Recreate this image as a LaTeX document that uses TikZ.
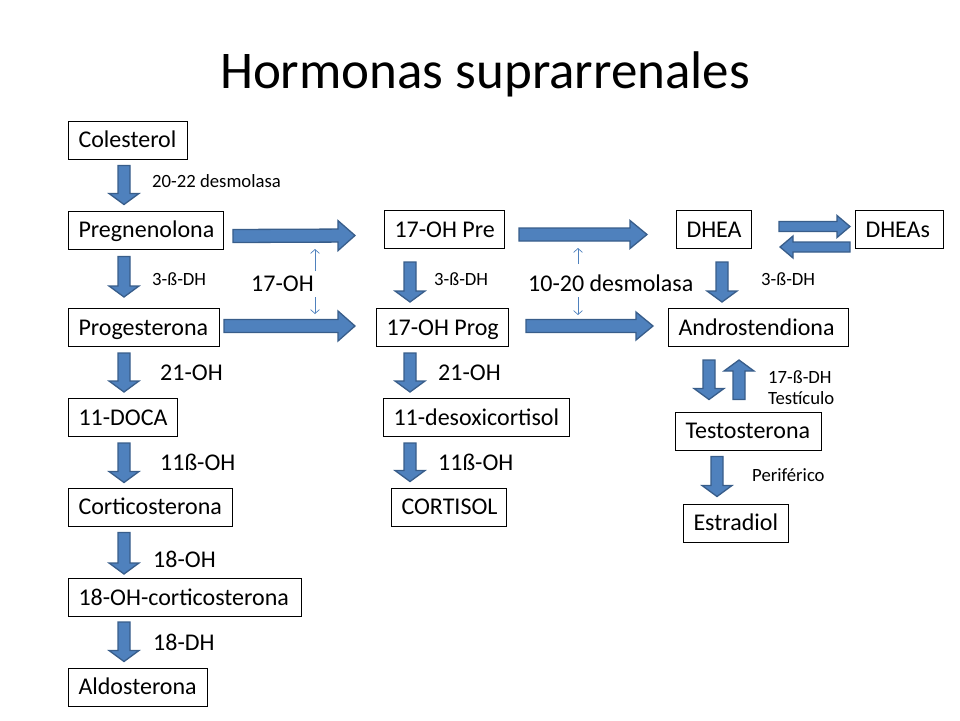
\documentclass[tikz,border=0pt]{standalone}
\usepackage{fontspec}
\setmainfont{Carlito}
\usetikzlibrary{calc,arrows.meta}
\definecolor{afill}{HTML}{4F81BD}
\definecolor{aline}{HTML}{385D8A}
\newcommand\barrow[5]{%
  \coordinate (ba) at #1; \coordinate (bb) at #2;
  \coordinate (bh) at ($(bb)!#5pt!(ba)$);
  \filldraw[blk] ($(ba)!#3pt!90:(bb)$) -- ($(bh)!#3pt!90:(bb)$) -- ($(bh)!#4pt!90:(bb)$) -- (bb)
    -- ($(bh)!#4pt!-90:(bb)$) -- ($(bh)!#3pt!-90:(bb)$) -- ($(ba)!#3pt!-90:(bb)$) -- cycle;}
\newcommand\bx[2]{\makebox[#1pt][l]{#2}}
\tikzset{
  box/.style={draw=black, line width=1pt, anchor=west, minimum height=38pt, inner xsep=10pt, inner ysep=0pt,
    text height=15.5pt, text depth=0pt, font=\fontsize{24}{28}\selectfont},
  blk/.style={fill=afill, draw=aline, line width=1.3pt, line join=miter},
  small/.style={anchor=base west, inner sep=0pt, font=\fontsize{18.7}{22}\selectfont},
  big/.style={anchor=base west, inner sep=0pt, font=\fontsize{24}{28}\selectfont},
  thinarr/.style={draw=afill, line width=0.7pt, -{Straight Barb[length=4pt,width=9pt]}}
}
\begin{document}
\begin{tikzpicture}[x=1pt,y=-1pt]
\useasboundingbox (0,0) rectangle (960,720);
\node[anchor=base, inner sep=0pt, font=\fontsize{53}{60}\selectfont] (title) at (485,88) {Hormonas suprarrenales};
% column 1
\node[box] (cole) at (68,140) {\bx{99}{Colesterol}};
\node[box] (preg) at (68,230) {\bx{135}{Pregnenolona}};
\node[box] (prog) at (68,327.5) {\bx{131}{Progesterona}};
\node[box] (doca) at (68,417.5) {\bx{89}{11-DOCA}};
\node[box] (cortico) at (68,507) {\bx{144}{Corticosterona}};
\node[box] (ohcort) at (68,597.5) {\bx{213}{18-OH-corticosterona}};
\node[box] (aldo) at (68,687) {\bx{119}{Aldosterona}};
% column 2
\node[box] (ohpre) at (384,229.5) {\bx{100}{17-OH Pre}};
\node[box] (ohprog) at (376,327.5) {\bx{112}{17-OH Prog}};
\node[box] (desoxi) at (383,417.5) {\bx{166}{11-desoxicortisol}};
\node[box] (cortisol) at (391,507) {\bx{95}{CORTISOL}};
% column 3
\node[box] (dhea) at (676,229.5) {\bx{55}{DHEA}};
\node[box] (dheas) at (855,229.5) {\bx{68}{DHEAs}};
\node[box] (andro) at (668,327.5) {\bx{160}{Androstendiona}};
\node[box] (testo) at (675,431) {\bx{126}{Testosterona}};
\node[box] (estra) at (683,523) {\bx{85}{Estradiol}};
% vertical block arrows column 1
\barrow{($(124,0 |- cole.south)+(0,6)$)}{($(124,0 |- preg.north)+(0,-6)$)}{6}{15}{11}
\barrow{($(124,0 |- preg.south)+(0,7)$)}{($(124,0 |- prog.north)+(0,-11)$)}{6}{15}{11}
\barrow{($(124,0 |- prog.south)+(0,6)$)}{($(124,0 |- doca.north)+(0,-6)$)}{6}{15}{11}
\barrow{($(124,0 |- doca.south)+(0,6)$)}{($(124,0 |- cortico.north)+(0,-5)$)}{6}{15}{11}
\barrow{($(124,0 |- cortico.south)+(0,6)$)}{($(124,0 |- ohcort.north)+(0,-4)$)}{6}{15}{11}
\barrow{($(124,0 |- ohcort.south)+(0,5)$)}{($(124,0 |- aldo.north)+(0,-6)$)}{6}{15}{11}
% vertical block arrows column 2
\barrow{($(410,0 |- ohpre.south)+(0,13)$)}{($(410,0 |- ohprog.north)+(0,-6)$)}{6}{15}{11}
\barrow{($(410,0 |- ohprog.south)+(0,6)$)}{($(410,0 |- desoxi.north)+(0,-6)$)}{6}{15}{11}
\barrow{($(410,0 |- desoxi.south)+(0,6)$)}{($(410,0 |- cortisol.north)+(0,-6)$)}{6}{15}{11}
% column 3
\barrow{($(722,0 |- dhea.south)+(0,13)$)}{($(722,0 |- andro.north)+(0,-6)$)}{6}{15}{11}
\barrow{($(709,0 |- andro.south)+(0,13)$)}{($(709,0 |- testo.north)+(0,-12)$)}{6}{15}{11}
\barrow{($(739,0 |- testo.north)+(0,-12)$)}{($(739,0 |- andro.south)+(0,13)$)}{6}{15}{11}
\barrow{($(717,0 |- testo.south)+(0,6)$)}{($(717,0 |- estra.north)+(0,-7)$)}{6}{15}{11}
% horizontal block arrows
\barrow{($(preg.east)+(9,6)$)}{($(ohpre.west)+(-29,6)$)}{6.5}{15}{17}
\barrow{($(prog.east)+(4,-1.5)$)}{($(ohprog.west)+(-21,-1.5)$)}{6.5}{15}{17}
\barrow{($(ohpre.east)+(14,5)$)}{($(dhea.west)+(-29,5)$)}{6.5}{14}{17}
\barrow{($(ohprog.east)+(17,-1.5)$)}{($(andro.west)+(-15,-1.5)$)}{6.5}{14}{17}
\barrow{($(dhea.east)+(27,-3)$)}{($(dheas.west)+(-5,-3)$)}{5}{11}{13}
\barrow{($(dheas.west)+(-5,17.5)$)}{($(dhea.east)+(28,17.5)$)}{5}{11}{13}
% thin arrows
\coordinate (u1) at (315,271); \coordinate (u1t) at (315,249);
\coordinate (d1) at (315,297); \coordinate (d1t) at (315,314);
\coordinate (u2) at (578,264); \coordinate (u2t) at (578,248);
\coordinate (d2) at (578,297); \coordinate (d2t) at (578,315);
\draw[thinarr] (u1) -- (u1t);
\draw[thinarr] (d1) -- (d1t);
\draw[thinarr] (u2) -- (u2t);
\draw[thinarr] (d2) -- (d2t);
% labels
\node[small] (l1) at (152,187) {20-22 desmolasa};
\node[small] (l2) at (152,285) {3-ß-DH};
\node[big] (l3) at (251,291) {17-OH};
\node[small] (l4) at (434,285) {3-ß-DH};
\node[big] (l5) at (528,291) {10-20 desmolasa};
\node[small] (l6) at (761,285) {3-ß-DH};
\node[big] (l7) at (160,380) {21-OH};
\node[big] (l8) at (438,380) {21-OH};
\node[big] (l9) at (160,470) {11ß-OH};
\node[big] (l10) at (438,470) {11ß-OH};
\node[big] (l11) at (153,567) {18-OH};
\node[big] (l12) at (153,650) {18-DH};
\node[small] (l13) at (768,383) {17-ß-DH};
\node[small] (l14) at (768,404) {Testículo};
\node[small] (l15) at (752,481) {Periférico};
\end{tikzpicture}
\end{document}
